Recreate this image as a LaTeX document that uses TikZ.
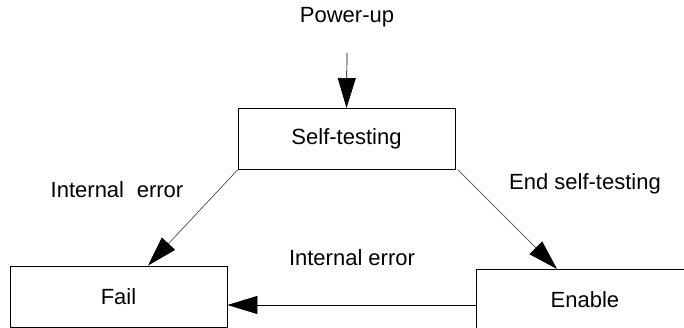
\documentclass[tikz,border=0pt]{standalone}
\usepackage{fontspec}
\setmainfont{Liberation Sans}
\usetikzlibrary{positioning,arrows.meta}

\begin{document}
\begin{tikzpicture}[x=1pt, y=-1pt, every node/.style={font=\fontsize{22}{26}\selectfont},
  st/.style={draw,minimum width=217pt,minimum height=61pt,inner sep=0pt,line width=0.9pt},
  lbl/.style={inner sep=0pt},
  tr/.style={-{Triangle[length=30pt,width=18pt,black]},line width=0.7pt}]
  \clip (0,0) rectangle (684,328);
  \node[st] (s) at (346.5,139) {Self-testing};
  \node[st] (f) at (118.5,296.5) {Fail};
  \node[st,anchor=north west] (e) at (476,269) {Enable};
  \node[lbl] (p) at (347,17) {Power-up};
  \coordinate (pu) at (347,53);
  \node[lbl] (l1) at (117,190) {Internal\hspace{0.3em} error};
  \node[lbl] (l2) at (585,184) {End self-testing};
  \node[lbl] (l3) at (352,258) {Internal error};
  \coordinate (sr) at (458,170);
  \draw[tr] (pu)--(s.north);
  \draw[tr,black!70] (s.south west)--(f.north -| 148,0);
  \draw[tr,black!70] (sr)--(e.north -| 557,0);
  \draw[tr] (e.west |- 0,305)--(f.east |- 0,305);
\end{tikzpicture}
\end{document}
